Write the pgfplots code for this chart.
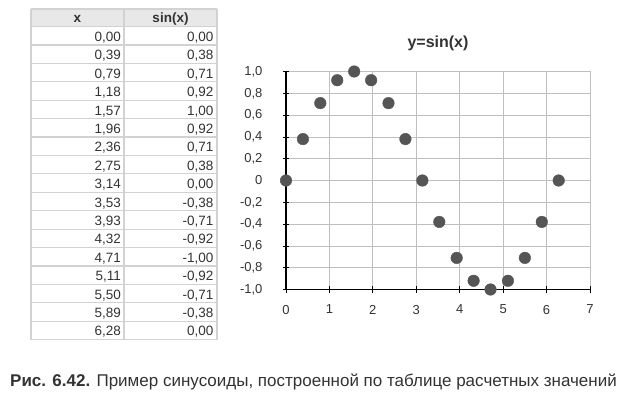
\documentclass[border=0pt]{standalone}
\usepackage{fontspec}
\setmainfont{Liberation Sans}
\usepackage{pgfplots}
\pgfplotsset{compat=1.18}
\definecolor{tgrid}{HTML}{D2D2D2}
\definecolor{thead}{HTML}{E8E8E8}
\definecolor{ttext}{HTML}{333333}
\definecolor{mk}{HTML}{555555}
\newcommand{\trow}[3]{%
  \node[anchor=base east,inner sep=0pt,text=ttext] at (121pt,{-(26.7+#1*18.4+14.8)*1pt}) {#2};
  \node[anchor=base east,inner sep=0pt,text=ttext] at (213.5pt,{-(26.7+#1*18.4+14.8)*1pt}) {#3};
}
\begin{document}
\begin{tikzpicture}
\fill[white] (0,0) rectangle (625pt,-396pt);
\path[use as bounding box] (0,0) rectangle (625pt,-396pt);
% table
\fill[thead] (31pt,-9pt) rectangle (217pt,-26.7pt);
\foreach \i in {0,...,17} {
  \draw[tgrid,line width=1.2pt] (31pt,{-(26.7+\i*18.4)*1pt}) -- (217pt,{-(26.7+\i*18.4)*1pt});
}
\draw[tgrid,line width=1.2pt] (31pt,-9pt) -- (217pt,-9pt);
\draw[tgrid,line width=1.2pt] (31pt,-9pt) -- (31pt,-339.5pt);
\draw[tgrid,line width=1.2pt] (124pt,-9pt) -- (124pt,-339.5pt);
\draw[tgrid,line width=1.2pt] (217pt,-9pt) -- (217pt,-339.5pt);
\begingroup
\fontsize{13.5}{15}\selectfont
\node[anchor=base,inner sep=0pt,text=ttext,font=\bfseries] at (77.5pt,-23pt) {x};
\node[anchor=base,inner sep=0pt,text=ttext,font=\bfseries] at (170.5pt,-23pt) {sin(x)};
\trow{0}{0,00}{0,00}
\trow{1}{0,39}{0,38}
\trow{2}{0,79}{0,71}
\trow{3}{1,18}{0,92}
\trow{4}{1,57}{1,00}
\trow{5}{1,96}{0,92}
\trow{6}{2,36}{0,71}
\trow{7}{2,75}{0,38}
\trow{8}{3,14}{0,00}
\trow{9}{3,53}{-0,38}
\trow{10}{3,93}{-0,71}
\trow{11}{4,32}{-0,92}
\trow{12}{4,71}{-1,00}
\trow{13}{5,11}{-0,92}
\trow{14}{5,50}{-0,71}
\trow{15}{5,89}{-0,38}
\trow{16}{6,28}{0,00}
\endgroup
% chart
\begin{axis}[
  at={(286pt,-289.5pt)}, anchor=south west,
  scale only axis, width=304pt, height=218pt,
  xmin=0, xmax=7, ymin=-1, ymax=1,
  xtick={0,1,2,3,4,5,6,7},
  xticklabels={0,1,2,3,4,5,6,7},
  ytick={-1,-0.8,-0.6,-0.4,-0.2,0,0.2,0.4,0.6,0.8,1},
  yticklabels={{-1,0},{-0,8},{-0,6},{-0,4},{-0,2},{0},{0,2},{0,4},{0,6},{0,8},{1,0}},
  /pgf/number format/assume math mode=true,
  grid=major,
  major grid style={draw=black!25, line width=0.8pt},
  axis x line*=bottom, axis y line*=left,
  axis line style={black, line width=1.1pt, -},
  tick align=center, major tick length=6pt,
  tick style={black, line width=0.8pt},
  ticklabel style={font=\fontsize{13}{15}\selectfont, text=ttext},
  xticklabel style={yshift=-9pt},
  yticklabel style={xshift=-17pt},
  clip=false,
  title={y=sin(x)},
  title style={font=\fontsize{16}{18}\selectfont\bfseries, text=ttext, at={(0.5,1)}, anchor=base, yshift=18pt},
]
\addplot[only marks, mark=*, mark size=5.8pt, mark options={fill=mk, draw=mk}] coordinates {
(0.00,0.00) (0.39,0.38) (0.79,0.71) (1.18,0.92) (1.57,1.00) (1.96,0.92)
(2.36,0.71) (2.75,0.38) (3.14,0.00) (3.53,-0.38) (3.93,-0.71) (4.32,-0.92)
(4.71,-1.00) (5.11,-0.92) (5.50,-0.71) (5.89,-0.38) (6.28,0.00)
};
\end{axis}
\node[anchor=base west, inner sep=0pt, text=ttext, font=\fontsize{17}{19}\selectfont] at (10pt,-386.5pt) {\textbf{Рис. 6.42.} Пример синусоиды, построенной по таблице расчетных значений};
\end{tikzpicture}
\end{document}
